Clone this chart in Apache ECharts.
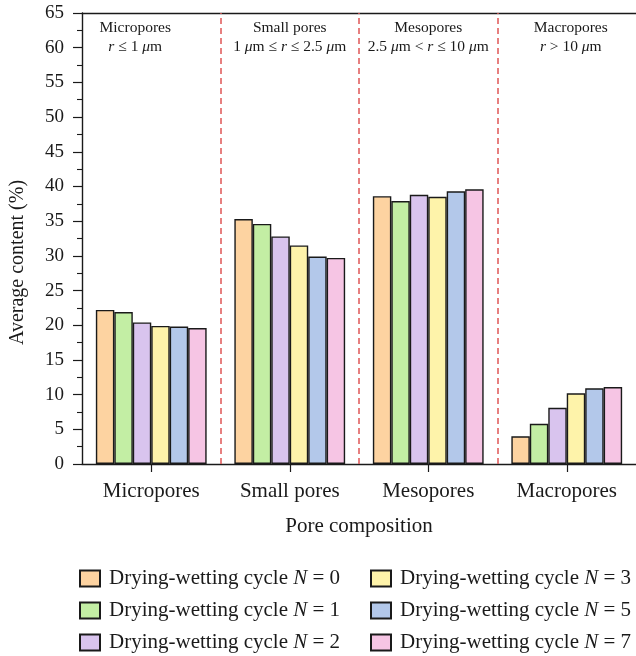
<!DOCTYPE html>
<html>
<head>
<meta charset="utf-8">
<script src="https://cdn.jsdelivr.net/npm/echarts@6/dist/echarts.min.js"></script>
<style>
  html, body { margin: 0; padding: 0; background: #fff; }
  #chart { width: 636px; height: 656px; }
</style>
</head>
<body>
<div id="chart"></div>
<script>
// Pore classes on the category axis
const categories = ['Micropores', 'Small pores', 'Mesopores', 'Macropores'];
// Radius ranges printed at the top of each class band ({i|..} = italic)
const rangeNotes = [
  '{i|r} ≤ 1 {i|μ}m',
  '1 {i|μ}m ≤ {i|r} ≤ 2.5 {i|μ}m',
  '2.5 {i|μ}m < {i|r} ≤ 10 {i|μ}m',
  '{i|r} > 10 {i|μ}m'
];
// Number of drying-wetting cycles for each series
const cycles = ['0', '1', '2', '3', '5', '7'];
// Average content (%) per pore class, one array per cycle count
const contentN0 = [22.2, 35.3, 38.6, 4.0];
const contentN1 = [21.9, 34.6, 37.9, 5.8];
const contentN2 = [20.4, 32.8, 38.8, 8.1];
const contentN3 = [19.9, 31.5, 38.5, 10.2];
const contentN5 = [19.8, 29.9, 39.3, 10.9];
const contentN7 = [19.6, 29.7, 39.6, 11.1];
// Y axis ticks
const yMin = 0, yMax = 65, yStep = 5;

const seriesValues = [contentN0, contentN1, contentN2, contentN3, contentN5, contentN7];
const fills = ['#fdd3a1', '#c3eea4', '#d9c4ee', '#fef3aa', '#b3c8ea', '#f6c5e4'];
const serif = '"Liberation Serif", "Times New Roman", serif';
const ink = '#1a1a1a';
const seriesName = n => 'Drying-wetting cycle N = ' + n;

const barSeries = cycles.map((n, k) => ({
  name: seriesName(n),
  type: 'bar',
  xAxisIndex: 0,
  yAxisIndex: 0,
  data: seriesValues[k],
  barGap: '0%',
  barCategoryGap: '20%',
  itemStyle: { color: fills[k], borderColor: ink, borderWidth: 1.4 }
}));

// Dashed separators between the pore classes, placed on a hidden 0..4 value axis
const separatorSeries = {
  type: 'line',
  xAxisIndex: 2,
  yAxisIndex: 0,
  data: [],
  silent: true,
  markLine: {
    symbol: 'none',
    silent: true,
    animation: false,
    label: { show: false },
    lineStyle: { color: '#e05555', type: [6, 4], width: 1.5 },
    data: [{ xAxis: 1 }, { xAxis: 2 }, { xAxis: 3 }]
  }
};

const legendFormatter = name => {
  const n = name.split('= ')[1];
  return '{t|Drying-wetting cycle }{i|N}{t| = ' + n + '}';
};
const legendText = {
  fontFamily: serif, fontSize: 21, color: ink, padding: [0, 0, 0, 4],
  rich: {
    t: { fontFamily: serif, fontSize: 21, color: ink },
    i: { fontFamily: serif, fontSize: 21, color: ink, fontStyle: 'italic' }
  }
};
const legendBase = {
  orient: 'vertical',
  top: 568,
  height: 150,
  itemWidth: 20,
  itemHeight: 16,
  itemGap: 11,
  icon: 'rect',
  padding: 0,
  textStyle: legendText,
  formatter: legendFormatter,
  selectedMode: false
};

const notePads = [[0, 32, 0, 0], [0, 0, 0, 0], [0, 0, 0, 0], [0, 0, 0, 8]];

const option = {
  animation: false,
  backgroundColor: '#fff',
  grid: { left: 80, top: 13, width: 560, height: 451, containLabel: false },
  legend: [
    Object.assign({}, legendBase, { left: 79, data: cycles.slice(0, 3).map(seriesName) }),
    Object.assign({}, legendBase, { left: 370, data: cycles.slice(3).map(seriesName) })
  ],
  xAxis: [
    {
      type: 'category',
      position: 'bottom',
      data: categories,
      axisLine: { show: true, lineStyle: { color: ink, width: 1.4 } },
      axisTick: { show: true, alignWithLabel: true, length: 8, lineStyle: { color: ink, width: 1.2 } },
      axisLabel: { fontFamily: serif, fontSize: 21, color: ink, margin: 17 },
      name: 'Pore composition',
      nameLocation: 'middle',
      nameGap: 52,
      nameTextStyle: { fontFamily: serif, fontSize: 21, color: ink }
    },
    {
      type: 'category',
      position: 'top',
      data: categories.map((c, i) => ({ value: c, textStyle: { padding: notePads[i] } })),
      axisLine: { show: false },
      axisTick: { show: false },
      axisLabel: {
        inside: true,
        margin: 6,
        interval: 0,
        formatter: (v, i) => '{h|' + v + '}\n' + rangeNotes[i],
        fontFamily: serif, fontSize: 15.5, color: ink, lineHeight: 18.5,
        rich: {
          h: { fontFamily: serif, fontSize: 15.5, color: ink, lineHeight: 18.5 },
          i: { fontFamily: serif, fontSize: 15.5, color: ink, fontStyle: 'italic', lineHeight: 18.5 }
        }
      }
    },
    {
      type: 'value',
      position: 'top',
      min: 0,
      max: 4,
      axisLine: { show: true, onZero: false, lineStyle: { color: ink, width: 1.4 } },
      axisTick: { show: false },
      axisLabel: { show: false },
      splitLine: { show: false }
    }
  ],
  yAxis: [
    {
      type: 'value',
      min: yMin,
      max: yMax,
      interval: yStep,
      axisLine: { show: true, lineStyle: { color: ink, width: 1.4 } },
      axisTick: { show: true, length: 9, lineStyle: { color: ink, width: 1.2 } },
      minorTick: { show: true, splitNumber: 2, length: 5, lineStyle: { color: ink, width: 1.1 } },
      splitLine: { show: false },
      axisLabel: { fontFamily: serif, fontSize: 19, color: ink, margin: 18 },
      name: 'Average content (%)',
      nameLocation: 'middle',
      nameGap: 54,
      nameTextStyle: { fontFamily: serif, fontSize: 20, color: ink, padding: [0, 48, 0, 0] }
    }
  ],
  series: barSeries.concat([separatorSeries])
};

const chart = echarts.init(document.getElementById('chart'), null, { renderer: 'canvas' });
chart.setOption(option);
</script>
</body>
</html>
